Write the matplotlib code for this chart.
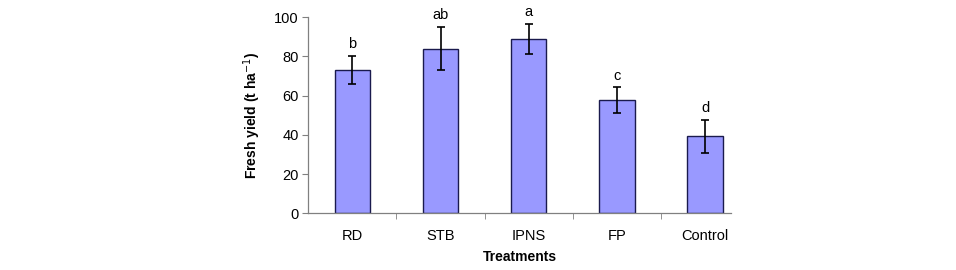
import numpy as np
import matplotlib.pyplot as plt

plt.rcParams['font.family'] = ['Liberation Sans', 'DejaVu Sans']

treatments = ["RD", "STB", "IPNS", "FP", "Control"]
yield_mean = [73.3, 84.0, 89.1, 57.7, 39.3]
yield_err = [7.1, 11.1, 7.7, 6.5, 8.3]
letters = ["b", "ab", "a", "c", "d"]

fig = plt.figure(figsize=(9.56, 2.70), dpi=100)
ax = fig.add_axes([0.3225, 0.21, 0.4418, 0.726])

x = np.arange(len(treatments))
ax.bar(x, yield_mean, width=0.4, color="#9999ff", edgecolor="#1a1a4d", linewidth=1.0, zorder=2)
ax.errorbar(x, yield_mean, yerr=yield_err, fmt="none", ecolor="black",
            elinewidth=1.2, capsize=2.8, capthick=1.2, zorder=3)

for xi, m, e, lab in zip(x, yield_mean, yield_err, letters):
    ax.annotate(lab, (xi, m + e), xytext=(0, 3.5), textcoords="offset points",
                ha="center", va="bottom", fontsize=10.5)

ax.set_xlim(-0.5, 4.29)
ax.set_ylim(0, 100)
ax.set_yticks(np.arange(0, 101, 20))
ax.set_xticks(x)
ax.set_xticklabels(treatments, fontsize=10.5)
ax.tick_params(axis="x", length=0, pad=11)
ax.set_xticks(np.arange(0.5, 4.0, 1.0), minor=True)
ax.tick_params(axis="x", which="minor", length=4, color="#808080", direction="out")
ax.tick_params(axis="y", labelsize=10.5, length=4, color="#808080", direction="out", pad=3)

for s in ["top", "right"]:
    ax.spines[s].set_visible(False)
for s in ["left", "bottom"]:
    ax.spines[s].set_color("#808080")
    ax.spines[s].set_linewidth(0.9)

ax.set_ylabel("Fresh yield (t ha$^{-1}$)", fontsize=10, fontweight="bold", labelpad=8)
ax.set_xlabel("Treatments", fontsize=10, fontweight="bold", labelpad=5)

fig.savefig("out.png", dpi=100)
